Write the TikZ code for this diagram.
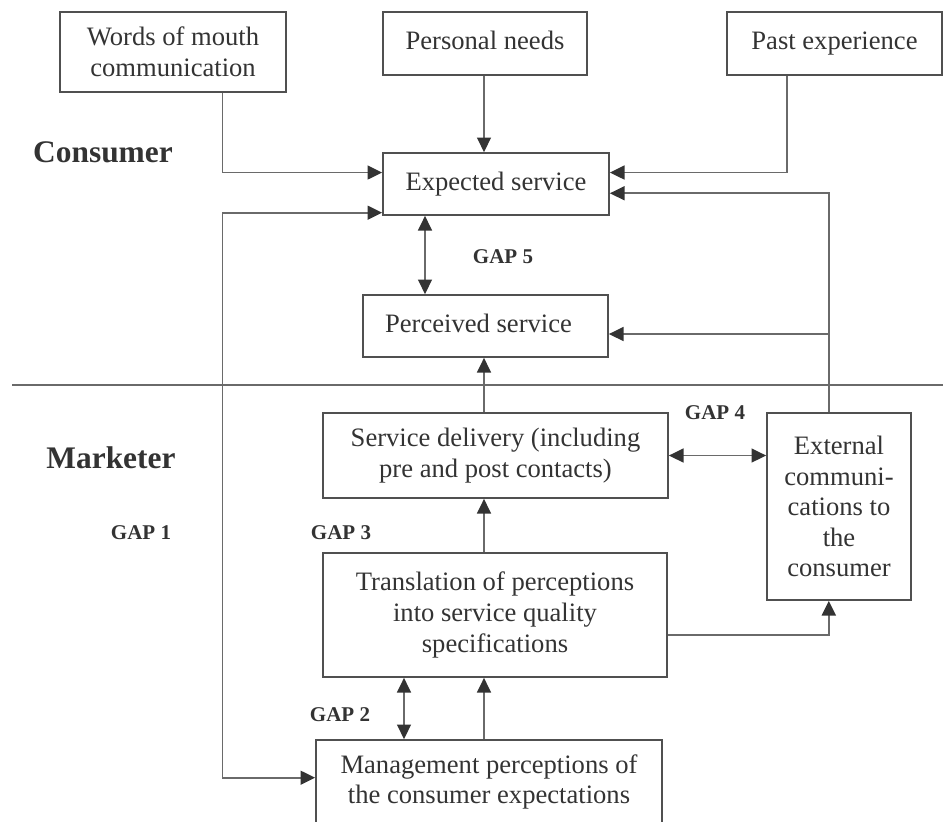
\documentclass[tikz,border=0pt]{standalone}
\usepackage{fontspec}
\setmainfont{Liberation Serif}
\usetikzlibrary{arrows.meta,calc}
\definecolor{ink}{HTML}{333333}
\definecolor{edge}{HTML}{505050}
\definecolor{wire}{HTML}{6A6A6A}
\begin{document}
\begin{tikzpicture}[x=0.5pt,y=-0.5pt,
  box/.style={draw=edge, line width=0.9pt, text=ink, align=center, inner sep=0pt,
    font=\fontsize{13.3}{15.3}\selectfont},
  wire/.style={draw=wire, line width=0.8pt},
  arr/.style={wire, -{Triangle[length=7.3pt,width=7pt,color=ink]}},
  arr2/.style={wire, {Triangle[length=7.3pt,width=7pt,color=ink]}-{Triangle[length=7.3pt,width=7pt,color=ink]}},
  side/.style={text=ink, font=\bfseries\fontsize{15.7}{18}\selectfont},
  gap/.style={text=ink, font=\bfseries\fontsize{10.5}{12}\selectfont}]
\useasboundingbox (0,0) rectangle (943,821);

% --- influences on expectations
\node[box, minimum width=113pt, minimum height=40pt] (words) at (173,52)
  {Words of mouth\\communication};
\node[box, minimum width=102pt, minimum height=31.5pt] (pers) at (485,43.5)
  {\raisebox{3pt}{Personal needs}};
\node[box, minimum width=107.5pt, minimum height=31.5pt] (past) at (834.5,43.5)
  {\raisebox{1.5pt}{Past experience}};

% --- consumer side
\node[box, minimum width=113pt, minimum height=31pt] (exp) at (496,184)
  {\raisebox{0.5pt}{Expected service}};
\node[box, minimum width=122.5pt, minimum height=31pt] (perc) at (485.5,326)
  {\raisebox{3pt}{Perceived service}\hspace*{7pt}};

% --- marketer side
\node[box, minimum width=172.5pt, minimum height=42.5pt] (sd) at (495.5,455.5)
  {Service delivery (including\\pre and post contacts)};
\node[box, minimum width=72pt, minimum height=93.5pt] (ext) at (839,506.5)
  {External\\communi-\\cations to\\the\\consumer};
\node[box, minimum width=172pt, minimum height=62pt] (tr) at (495,615)
  {Translation of perceptions\\into service quality\\specifications};
\node[box, minimum width=173pt, minimum height=42pt] (mg) at (489,782)
  {Management perceptions of\\the consumer expectations};

% --- side titles and gap labels
\node[side] (consumer) at (103,152) {Consumer};
\node[side] (marketer) at (111,458) {Marketer};
\node[gap] (g1) at (141,533) {GAP 1};
\node[gap] (g2) at (340,715) {GAP 2};
\node[gap] (g3) at (341,533) {GAP 3};
\node[gap] (g4) at (715,413) {GAP 4};
\node[gap] (g5) at (503,257) {GAP 5};

% --- divider between consumer and marketer
\coordinate (divL) at (12,385);
\coordinate (divR) at (943,385);
\draw[wire] (divL) -- (divR);

% --- helper positions for the vertical runs
\coordinate (lx) at ($(words.south west)!0.717!(words.south east)$);
\coordinate (px) at ($(past.south west)!0.28!(past.south east)$);
\coordinate (rx) at ($(ext.north west)!0.43!(ext.north east)$);
\coordinate (mx) at (484,0);
\coordinate (g2x) at (404,0);
\coordinate (g5x) at (425,0);

% --- connectors into expected service
\draw[arr] (lx) |- ($(exp.north west)!0.32!(exp.south west)$);
\draw[arr] (pers.south -| mx) -- (exp.north -| mx);
\draw[arr] (px) |- ($(exp.north east)!0.32!(exp.south east)$);
\draw[arr] (rx) |- ($(exp.north east)!0.645!(exp.south east)$);
\draw[arr] (rx |- perc.east) ++(0,8) coordinate (pj) -- (pj -| perc.east);

% --- GAP 1 loop between expectations and management perceptions
\draw[arr2] ($(exp.north west)!0.95!(exp.south west)$) coordinate (a1)
  -- (a1 -| lx) |- ($(mg.north west)!0.45!(mg.south west)$);

% --- GAP 5
\draw[arr2] (exp.south -| g5x) -- (perc.north -| g5x);

% --- delivery chain
\draw[arr] (sd.north -| mx) -- (perc.south -| mx);
\draw[arr] (tr.north -| mx) -- (sd.south -| mx);
\draw[arr] (mg.north -| mx) -- (tr.south -| mx);

% --- GAP 2
\draw[arr2] (tr.south -| g2x) -- (mg.north -| g2x);

% --- GAP 4
\draw[arr2] (sd.east) -- (ext.west |- sd.east);

% --- specifications to external communications
\draw[arr] ($(tr.north east)!0.66!(tr.south east)$) -| (rx |- ext.south);
\end{tikzpicture}
\end{document}
